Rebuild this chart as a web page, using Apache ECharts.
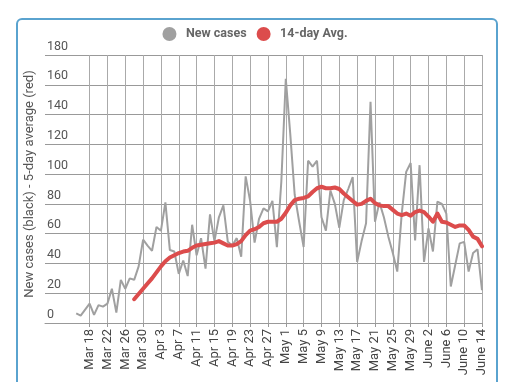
<!DOCTYPE html>
<html>
<head>
<meta charset="utf-8">
<script src="https://cdn.jsdelivr.net/npm/echarts@6/dist/echarts.min.js"></script>
<style>
html,body{margin:0;padding:0;background:#fff;}
#chart{width:510px;height:382px;}
</style>
</head>
<body>
<div id="chart"></div>
<script>
const dates = [
"Mar 8","Mar 9","Mar 10","Mar 11","Mar 12","Mar 13","Mar 14","Mar 15","Mar 16","Mar 17","Mar 18","Mar 19","Mar 20","Mar 21","Mar 22","Mar 23","Mar 24","Mar 25","Mar 26","Mar 27","Mar 28","Mar 29","Mar 30","Mar 31",
"Apr 1","Apr 2","Apr 3","Apr 4","Apr 5","Apr 6","Apr 7","Apr 8","Apr 9","Apr 10","Apr 11","Apr 12","Apr 13","Apr 14","Apr 15","Apr 16","Apr 17","Apr 18","Apr 19","Apr 20","Apr 21","Apr 22","Apr 23","Apr 24","Apr 25","Apr 26","Apr 27","Apr 28","Apr 29","Apr 30",
"May 1","May 2","May 3","May 4","May 5","May 6","May 7","May 8","May 9","May 10","May 11","May 12","May 13","May 14","May 15","May 16","May 17","May 18","May 19","May 20","May 21","May 22","May 23","May 24","May 25","May 26","May 27","May 28","May 29","May 30","May 31",
"June 1","June 2","June 3","June 4","June 5","June 6","June 7","June 8","June 9","June 10","June 11","June 12","June 13","June 14"
];
const tickLabels = ["Mar 18","Mar 22","Mar 26","Mar 30","Apr 3","Apr 7","Apr 11","Apr 15","Apr 19","Apr 23","Apr 27","May 1","May 5","May 9","May 13","May 17","May 21","May 25","May 29","June 2","June 6","June 10","June 14"];
const newCases = [
null,null,null,null,null,null,null,
6.5,5,9,13,5.5,12,11,13,23,7,29,23,30,29,38,56,52,48.5,64.5,62,81,49,48,33,42,31.5,66,45.5,57,36.5,73,55,71,79,54.5,52,57,44.5,98.5,82,54,70,77,75,82,51,95,
164,127,86,68,51,109,105,109,71,62,89,80,64,82.5,90,98,41,55,67,148.5,68,81,71,58,47,34.5,73.5,101.5,107.5,55.5,106,
41,63.5,48,81.5,80,73.5,24.5,39,53.5,54.5,34.5,47,49.5,22
];
const avg14 = [
null,null,null,null,null,null,null,null,null,null,null,null,null,null,null,null,null,null,null,null,
16,19.5,23,26.5,30,34,38,41.5,44,45.5,47,48,48.5,50.5,52,52.5,53,53.5,54,55,53.5,52,52,53,55,59,62,63,64.5,67,68,68,68,70,
74,79,82.5,83.5,84,85,88,90.5,91.5,90.5,90.5,91,90,87,84.5,82,79.5,80,82,83.5,80.5,79,78.5,78.5,76,73.5,72.5,73.5,72,74.5,75.5,
74.5,71.5,68,73.5,68,67.5,66,64.5,65.5,65.5,62.5,58,56.5,51.5
];
const seriesNames = ["New cases","14-day Avg."];
const yName = "New cases (black) - 5-day average (red)";
const xName = "Date";

const isTick = (i) => tickLabels.indexOf(dates[i]) >= 0;
const chart = echarts.init(document.getElementById('chart'));
const font = 'Roboto, Arial, sans-serif';
chart.setOption({
  animation: false,
  backgroundColor: '#fff',
  graphic: [{
    type: 'rect', left: 16, top: 18, z: -10,
    shape: { width: 480, height: 400, r: 5 },
    style: { fill: '#fff', stroke: '#5aa3cf', lineWidth: 2 }
  }],
  legend: {
    top: 22, left: 'center',
    itemWidth: 17, itemHeight: 14, itemGap: 10,
    icon: 'circle',
    textStyle: { color: '#666', fontSize: 12.5, fontWeight: 'bold', fontFamily: font, padding: [0,0,0,3] },
    data: [
      { name: seriesNames[0], itemStyle: { color: '#a0a0a0' } },
      { name: seriesNames[1], itemStyle: { color: '#dc4c4c' } }
    ]
  },
  grid: { left: 45, right: 28, top: 55, bottom: 59, containLabel: false, outerBoundsMode: 'none' },
  xAxis: {
    type: 'category',
    data: dates,
    boundaryGap: false,
    name: xName, nameLocation: 'middle', nameGap: 63,
    nameTextStyle: { color: '#555', fontSize: 13, fontFamily: font },
    axisLine: { show: true, lineStyle: { color: '#999', width: 1 } },
    axisTick: { show: true, interval: (i) => isTick(i), length: 4, lineStyle: { color: '#999' } },
    axisLabel: { interval: (i) => isTick(i), rotate: 90, margin: 6, color: '#444', fontSize: 13, fontFamily: font },
    splitLine: { show: true, interval: (i) => isTick(i), lineStyle: { color: '#aaa', width: 1 } }
  },
  yAxis: {
    type: 'value', min: 0, max: 180, interval: 20,
    name: yName, nameLocation: 'middle', nameGap: 7,
    nameTextStyle: { color: '#555', fontSize: 13, fontFamily: font, padding: [0,0,0,10] },
    axisLine: { show: false }, axisTick: { show: false },
    axisLabel: { inside: true, margin: 2, verticalAlign: 'bottom', padding: [0,0,2,0], color: '#555', fontSize: 12.5, fontFamily: font },
    splitLine: { show: true, lineStyle: { color: '#999', width: 1 } }
  },
  series: [
    { name: seriesNames[0], type: 'line', data: newCases, showSymbol: false, symbol: 'none',
      lineStyle: { color: '#a0a0a0', width: 2 }, itemStyle: { color: '#a0a0a0' }, z: 2 },
    { name: seriesNames[1], type: 'line', data: avg14, showSymbol: false, symbol: 'none',
      lineStyle: { color: '#dc4c4c', width: 4, cap: 'round', join: 'round' }, itemStyle: { color: '#dc4c4c' }, z: 3 }
  ]
});
</script>
</body>
</html>
